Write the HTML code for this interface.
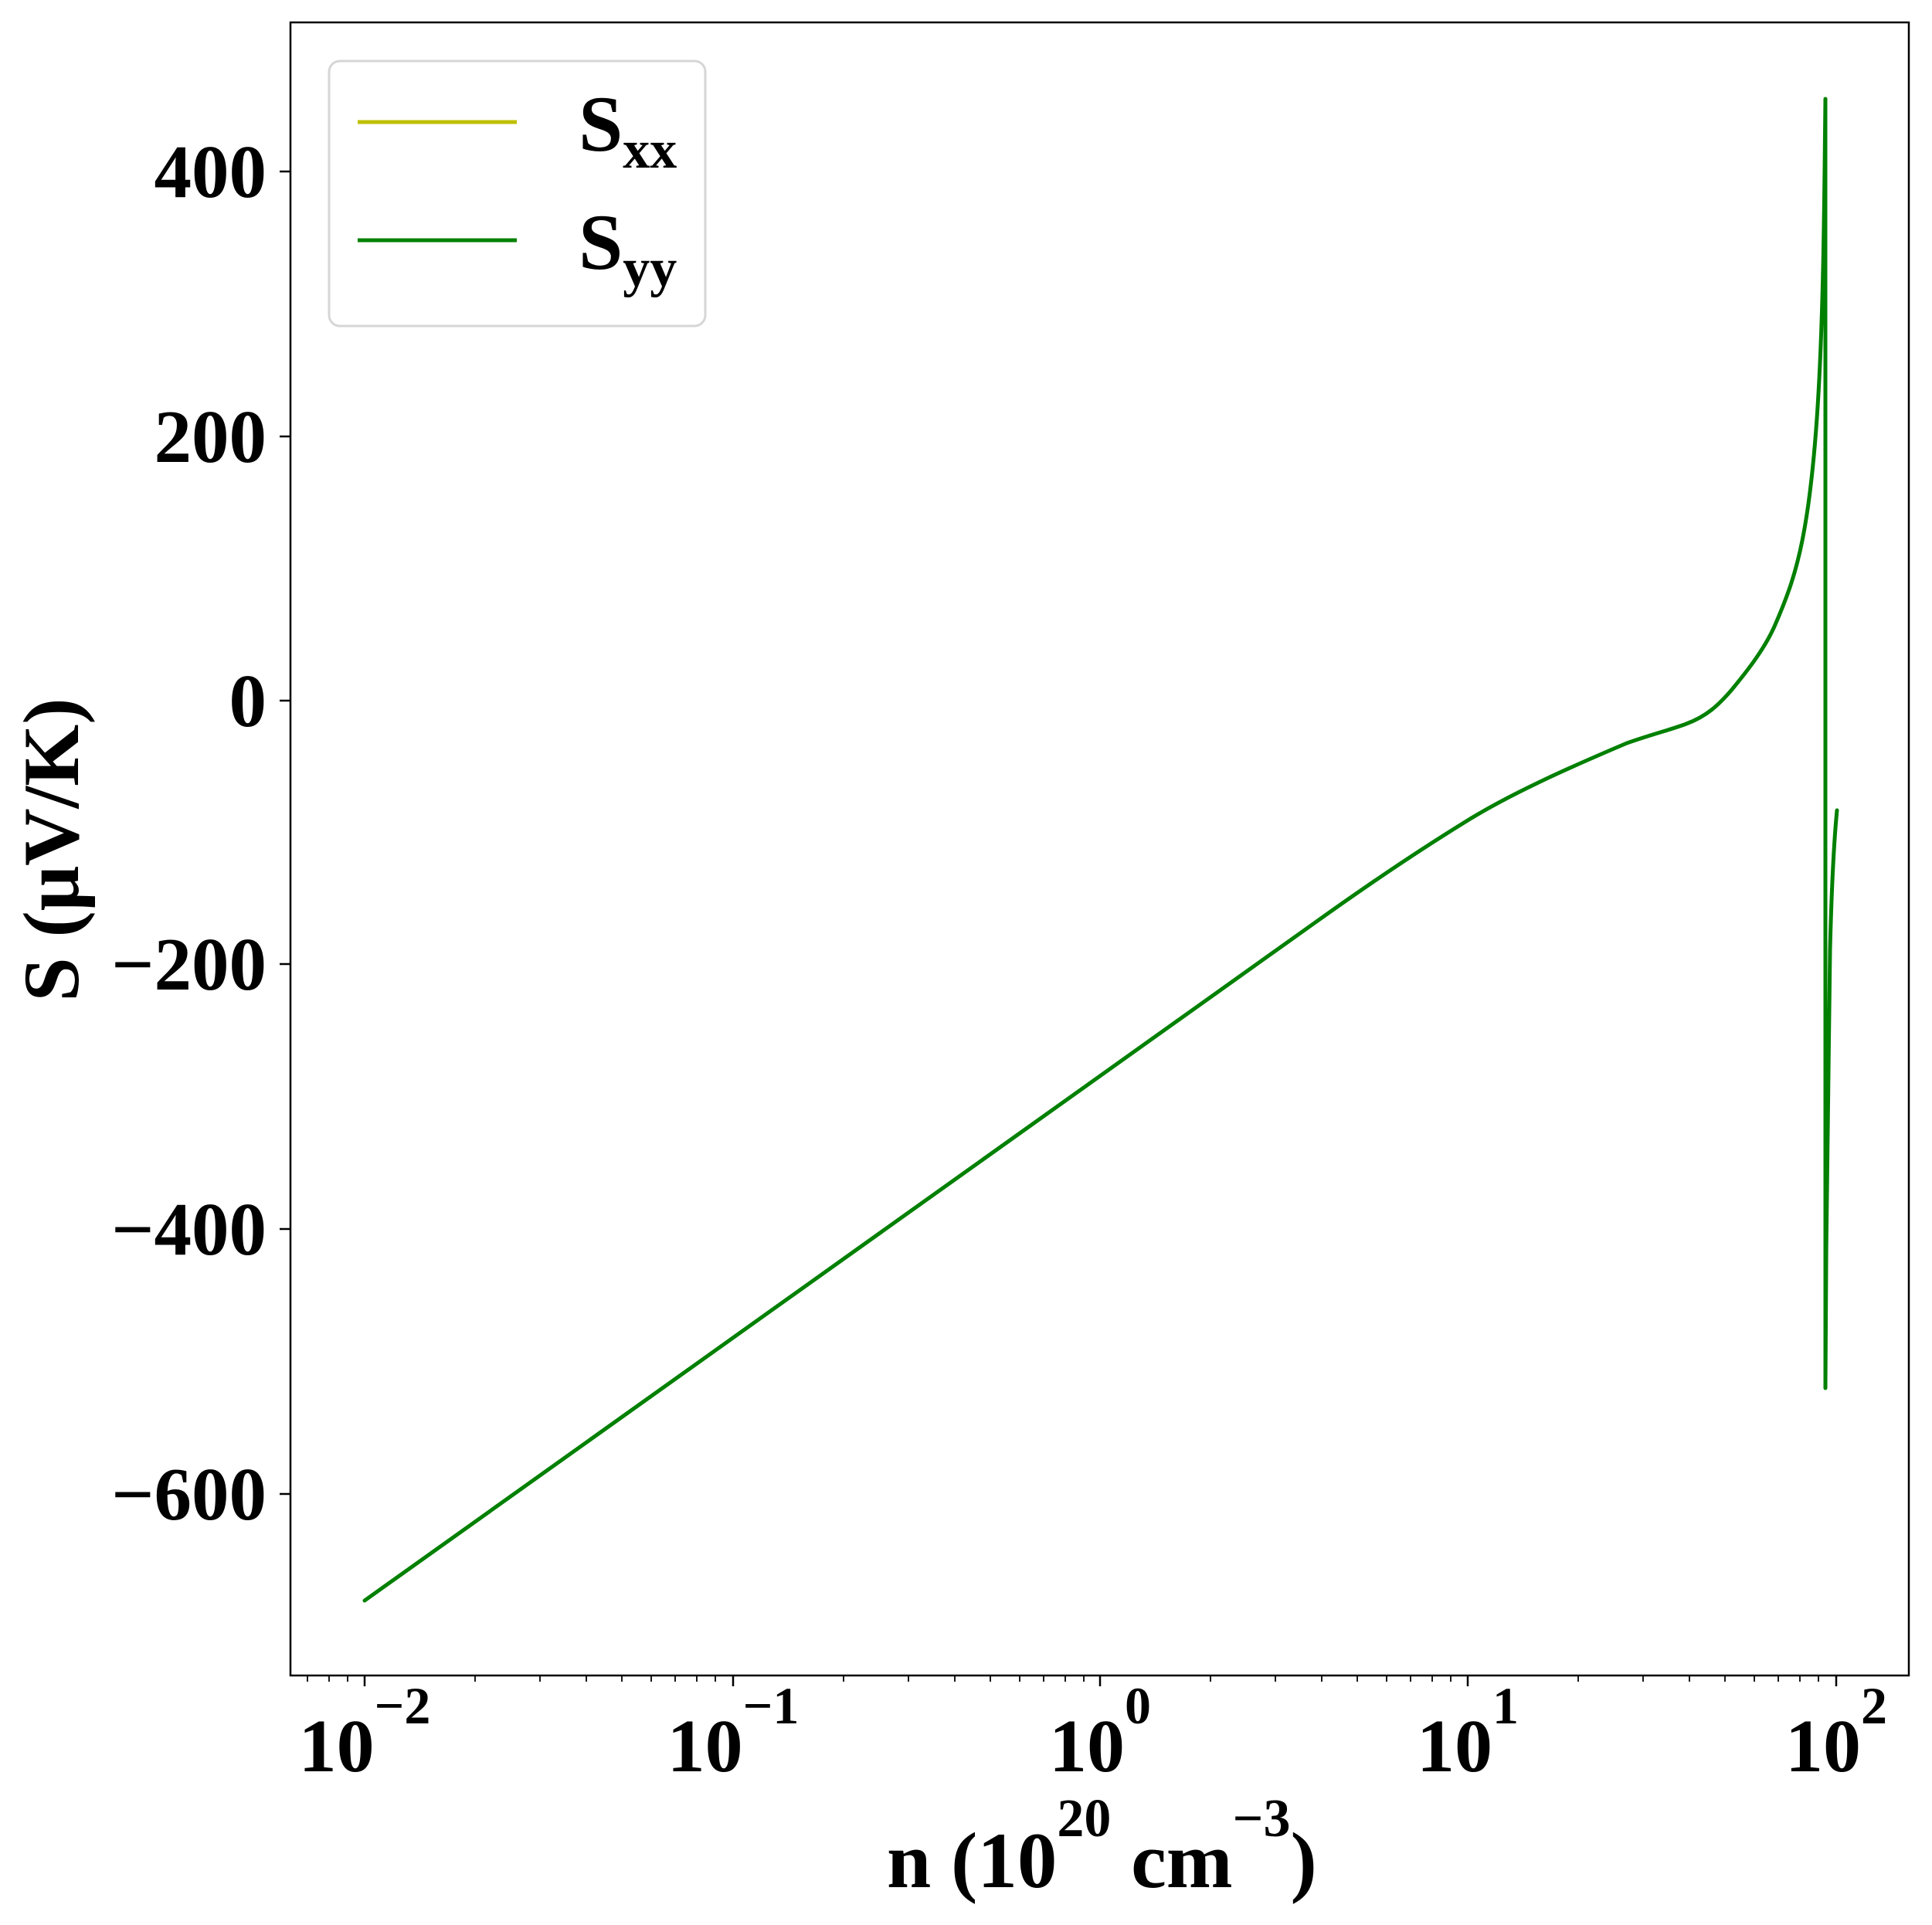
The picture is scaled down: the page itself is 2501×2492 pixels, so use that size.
<!DOCTYPE html>
<html><head><meta charset="utf-8"><style>
html,body{margin:0;padding:0;background:#fff;}
svg{display:block;}
text{font-family:"Liberation Serif","Times New Roman",serif;font-weight:bold;fill:#000;}
</style></head><body>
<svg width="2501" height="2492" viewBox="0 0 2501 2492" xmlns="http://www.w3.org/2000/svg">
<rect width="2501" height="2492" fill="#fff"/>
<path fill="none" stroke="#008000" stroke-width="5" stroke-linejoin="round" stroke-linecap="round"
d="M472,2072 L1700,1196 C1760,1153 1830,1105 1900,1062 C1960,1025 2040,990 2106,962 C2140,950 2165,944 2183,937 C2210,927 2225,912 2240,895 C2265,865 2285,838 2297,811 C2315,770 2325,740 2333,700 C2345,640 2352,560 2356,470 C2360,380 2361,300 2362,220 L2363,128 L2363,1797 C2364,1600 2366,1350 2369,1230 C2371,1150 2374,1090 2378,1049"/>
<rect x="376" y="29" width="2095" height="2140" fill="none" stroke="#000" stroke-width="2.5"/>
<g stroke="#000" stroke-width="2.5">
<line x1="362" y1="222" x2="376" y2="222"/>
<line x1="362" y1="565" x2="376" y2="565"/>
<line x1="362" y1="907" x2="376" y2="907"/>
<line x1="362" y1="1248" x2="376" y2="1248"/>
<line x1="362" y1="1591" x2="376" y2="1591"/>
<line x1="362" y1="1934" x2="376" y2="1934"/>
</g>
<g font-size="97" text-anchor="end">
<text x="345" y="255">400</text>
<text x="345" y="598">200</text>
<text x="345" y="940">0</text>
<text x="345" y="1281">−200</text>
<text x="345" y="1624">−400</text>
<text x="345" y="1967">−600</text>
</g>
<g stroke="#000" stroke-width="2.5">
<line x1="472" y1="2169" x2="472" y2="2183"/>
<line x1="949" y1="2169" x2="949" y2="2183"/>
<line x1="1424" y1="2169" x2="1424" y2="2183"/>
<line x1="1900" y1="2169" x2="1900" y2="2183"/>
<line x1="2377" y1="2169" x2="2377" y2="2183"/>
</g>
<g stroke="#000" stroke-width="1.8">
<path d="M398,2169v8M426,2169v8M450,2169v8
M615,2169v8M699,2169v8M759,2169v8M805,2169v8M843,2169v8M874,2169v8M902,2169v8M926,2169v8
M1092,2169v8M1176,2169v8M1236,2169v8M1282,2169v8M1320,2169v8M1351,2169v8M1379,2169v8M1403,2169v8
M1567,2169v8M1651,2169v8M1711,2169v8M1757,2169v8M1795,2169v8M1826,2169v8M1854,2169v8M1878,2169v8
M2043,2169v8M2127,2169v8M2187,2169v8M2233,2169v8M2271,2169v8M2302,2169v8M2330,2169v8M2354,2169v8"/>
</g>
<g font-size="98" text-anchor="middle">
<text x="472" y="2293">10<tspan font-size="68" dy="-62">−2</tspan></text>
<text x="949" y="2293">10<tspan font-size="68" dy="-62">−1</tspan></text>
<text x="1424" y="2293">10<tspan font-size="68" dy="-62">0</tspan></text>
<text x="1900" y="2293">10<tspan font-size="68" dy="-62">1</tspan></text>
<text x="2377" y="2293">10<tspan font-size="68" dy="-62">2</tspan></text>
</g>
<text x="1148" y="2443" font-size="103">n (10<tspan font-size="70" dy="-66">20</tspan><tspan dy="66"> cm</tspan><tspan font-size="70" dy="-66">−3</tspan><tspan dy="66">)</tspan></text>
<text transform="translate(101,1100) rotate(-90)" font-size="103" text-anchor="middle">S (μV/K)</text>
<rect x="426" y="79" width="487" height="343" rx="14" ry="14" fill="#fff" stroke="#d6d6d6" stroke-width="3"/>
<line x1="463" y1="158" x2="669" y2="158" stroke="#bfbf00" stroke-width="5"/>
<line x1="463" y1="311" x2="669" y2="311" stroke="#008000" stroke-width="5"/>
<text x="749" y="195" font-size="103">S<tspan font-size="70" dy="22">xx</tspan></text>
<text x="749" y="348" font-size="103">S<tspan font-size="70" dy="22">yy</tspan></text>
</svg>
</body></html>
